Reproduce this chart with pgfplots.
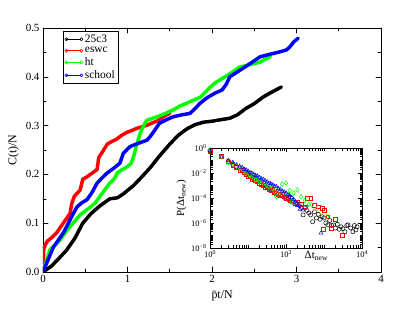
\documentclass[border=0pt]{standalone}
\usepackage{pgfplots}
\pgfplotsset{compat=1.18}
\usepackage{fontspec}
\setmainfont{Liberation Serif}
\definecolor{gGreen}{RGB}{0,255,0}
\definecolor{gRed}{RGB}{255,0,0}
\definecolor{gBlue}{RGB}{0,0,255}
\def\xminor{0}
\foreach \d in {0,1,2,3}{\foreach \f in {0.30103,0.47712,0.60206,0.69897,0.77815,0.84510,0.90309,0.95424}{\pgfmathsetmacro\v{\d+\f}\xdef\xminor{\xminor,\v}}\pgfmathsetmacro\v{\d+1}\xdef\xminor{\xminor,\v}}
\def\yminor{-8}
\foreach \d in {-8,...,-1}{\foreach \f in {0.30103,0.47712,0.60206,0.69897,0.77815,0.84510,0.90309,0.95424}{\pgfmathsetmacro\v{\d+\f}\xdef\yminor{\yminor,\v}}\pgfmathsetmacro\v{\d+1}\xdef\yminor{\yminor,\v}}
\begin{document}
\begin{tikzpicture}
\useasboundingbox (-43bp,-43bp) rectangle (364bp,272bp);
\begin{axis}[
  at={(0bp,0bp)}, anchor=south west,
  width=338bp, height=244bp, scale only axis,
  xmin=0, xmax=4, ymin=0, ymax=0.5,
  xtick={0,1,2,3,4}, minor xtick={0.5,1.5,2.5,3.5},
  ytick={0,0.1,0.2,0.3,0.4,0.5}, minor ytick={0.05,0.15,0.25,0.35,0.45},
  yticklabel style={/pgf/number format/fixed, /pgf/number format/fixed zerofill, /pgf/number format/precision=1},
  /pgf/number format/assume math mode=true,
  tick label style={font=\fontsize{11}{13}\selectfont},
  major tick length=5bp, minor tick length=3bp,
  tick style={black, line width=0.6pt},
  axis line style={line width=0.8pt},
  xlabel={\={p}t/N}, ylabel={C(t)/N},
  label style={font=\fontsize{12}{14}\selectfont},
  xlabel style={at={(axis description cs:0.53,0)}, anchor=north, yshift=-15bp},
  ylabel style={yshift=0bp},
  legend image code/.code={\draw[#1] plot coordinates {(0bp,0bp) (15bp,0bp)};},
  legend style={at={(axis description cs:0.059,0.988)}, anchor=north west, draw=black, line width=0.6pt,
    font=\fontsize{11.5}{11.5}\selectfont, inner sep=1.5pt, row sep=-0.5pt, legend cell align=left},
  line join=round, line cap=round,
]
\addlegendimage{black, mark=o, mark size=1.6pt, line width=0.6pt}
\addlegendentry{25c3}
\addlegendimage{gRed, mark=o, mark size=1.6pt, line width=0.6pt}
\addlegendentry{eswc}
\addlegendimage{gGreen, mark=o, mark size=1.6pt, line width=0.6pt}
\addlegendentry{ht}
\addlegendimage{gBlue, mark=o, mark size=1.6pt, line width=0.6pt}
\addlegendentry{school}
\addplot[black, line width=3.5pt, forget plot] coordinates {
(0,0) (0.1,0.012) (0.2,0.03) (0.28,0.045) (0.38,0.07) (0.47,0.1) (0.57,0.12) (0.67,0.135) (0.79,0.15) (0.88,0.152) (0.95,0.16) (1.07,0.177) (1.17,0.195) (1.27,0.214) (1.38,0.238) (1.5,0.262) (1.6,0.28) (1.7,0.293) (1.8,0.302) (1.9,0.307) (2.0,0.309) (2.1,0.312) (2.21,0.315) (2.3,0.322) (2.4,0.335) (2.5,0.345) (2.6,0.358) (2.7,0.368) (2.82,0.379)
};
\addplot[gRed, line width=3.5pt, forget plot] coordinates {
(0,0) (0.01,0.05) (0.05,0.063) (0.1,0.07) (0.16,0.08) (0.2,0.09) (0.24,0.1) (0.28,0.11) (0.32,0.12) (0.34,0.14) (0.37,0.155) (0.44,0.168) (0.47,0.19) (0.52,0.195) (0.56,0.2) (0.6,0.205) (0.64,0.21) (0.66,0.235) (0.7,0.245) (0.76,0.262) (0.82,0.268) (0.87,0.272) (0.93,0.28) (0.99,0.286) (1.05,0.29) (1.12,0.295) (1.18,0.298) (1.25,0.302) (1.3,0.306) (1.36,0.31) (1.42,0.318) (1.5,0.325)
};
\addplot[gGreen, line width=3.5pt, forget plot] coordinates {
(0,0) (0.08,0.045) (0.14,0.055) (0.2,0.065) (0.26,0.08) (0.32,0.093) (0.38,0.105) (0.44,0.117) (0.5,0.125) (0.56,0.133) (0.62,0.142) (0.67,0.154) (0.73,0.168) (0.79,0.182) (0.84,0.19) (0.88,0.203) (0.94,0.21) (0.99,0.215) (1.04,0.222) (1.07,0.235) (1.1,0.255) (1.15,0.284) (1.19,0.3) (1.23,0.311) (1.3,0.315) (1.35,0.318) (1.45,0.325) (1.54,0.332) (1.62,0.34) (1.7,0.346) (1.78,0.352) (1.86,0.358) (1.93,0.37) (1.98,0.379) (2.04,0.388) (2.09,0.393) (2.2,0.405) (2.33,0.42) (2.45,0.425) (2.57,0.43) (2.63,0.436) (2.69,0.441)
};
\addplot[gBlue, line width=3.5pt, forget plot] coordinates {
(0,0) (0.06,0.025) (0.12,0.05) (0.18,0.065) (0.24,0.08) (0.28,0.093) (0.32,0.107) (0.36,0.12) (0.4,0.133) (0.46,0.142) (0.52,0.148) (0.58,0.163) (0.64,0.182) (0.7,0.193) (0.76,0.203) (0.84,0.213) (0.91,0.223) (0.95,0.243) (1.0,0.252) (1.03,0.257) (1.1,0.262) (1.18,0.267) (1.23,0.27) (1.27,0.278) (1.3,0.285) (1.34,0.295) (1.38,0.305) (1.46,0.312) (1.54,0.318) (1.64,0.322) (1.74,0.325) (1.8,0.335) (1.86,0.346) (1.95,0.358) (2.04,0.367) (2.12,0.373) (2.17,0.385) (2.21,0.4) (2.3,0.41) (2.39,0.42) (2.51,0.434) (2.57,0.441) (2.68,0.446) (2.8,0.451) (2.88,0.455) (2.92,0.461) (2.97,0.472) (3.02,0.479)
};
\end{axis}
\begin{axis}[
  at={(167bp,24bp)}, anchor=south west,
  width=152bp, height=100bp, scale only axis,
  xmin=0, xmax=4, ymin=-8, ymax=0,
  xtick={0,2,4}, xticklabels={10\textsuperscript{0},10\textsuperscript{2},10\textsuperscript{4}},
  ytick={-8,-6,-4,-2,0}, yticklabels={10\textsuperscript{−8},10\textsuperscript{−6},10\textsuperscript{−4},10\textsuperscript{−2},10\textsuperscript{0}},
  minor xtick/.expanded={\xminor}, minor ytick/.expanded={\yminor},
  tick label style={font=\fontsize{8.5}{10}\selectfont},
  xticklabel style={yshift=1bp},
  major tick length=4bp, minor tick length=2.5bp,
  tick style={black, line width=0.5pt},
  axis line style={line width=0.8pt},
  xlabel={Δt\textsubscript{new}}, ylabel={P(Δt\textsubscript{new})},
  label style={font=\fontsize{11}{13}\selectfont},
  xlabel style={at={(axis description cs:0.70,0)}, anchor=north, yshift=-3bp, inner sep=0pt},
  ylabel style={yshift=-2bp},
  mark options={solid, line width=0.5pt},
]
\addplot[only marks, black, mark=o, mark size=2.1pt] coordinates {
(0,-0.2) (0.30,-0.7) (0.48,-1.05) (0.60,-1.3) (0.70,-1.5) (0.78,-1.6) (0.85,-1.75) (0.90,-1.85) (0.95,-1.95) (1.0,-2.05) (1.05,-2.2) (1.1,-2.35) (1.15,-2.45) (1.2,-2.5) (1.25,-2.65) (1.3,-2.7) (1.35,-2.85) (1.4,-2.95) (1.45,-3.0) (1.5,-3.15) (1.55,-3.2) (1.6,-3.35) (1.65,-3.4) (1.7,-3.5) (1.75,-3.6) (1.8,-3.7) (1.85,-3.8) (1.9,-3.85) (1.95,-3.95) (2.0,-4.05) (2.05,-4.1) (2.1,-4.2) (2.15,-4.3) (2.2,-4.35) (2.25,-4.45) (2.3,-4.5) (2.35,-4.6) (2.4,-4.75) (2.45,-5.35) (2.5,-4.8) (2.55,-5.0) (2.6,-5.2) (2.65,-5.35) (2.7,-5.9) (2.75,-5.1) (2.8,-5.6) (2.85,-5.3) (2.9,-5.7) (2.95,-5.5) (3.0,-5.6) (3.05,-6.0) (3.1,-6.15) (3.15,-5.8) (3.2,-6.2) (3.25,-6.15) (3.3,-6.4) (3.35,-6.1) (3.4,-6.5) (3.45,-6.3) (3.5,-6.45) (3.55,-6.7) (3.6,-6.2) (3.63,-6.15) (3.7,-6.4) (3.76,-6.7) (3.8,-6.2) (3.84,-6.55) (3.87,-6.3)
};
\addplot[only marks, gRed, mark=square, mark size=1.9pt] coordinates {
(0,-0.25) (0.30,-0.65) (0.48,-1.1) (0.6,-1.35) (0.7,-1.55) (0.78,-1.75) (0.85,-1.8) (0.9,-1.95) (0.95,-2.1) (1.0,-2.25) (1.05,-2.3) (1.1,-2.5) (1.15,-2.4) (1.2,-2.6) (1.25,-2.7) (1.3,-2.8) (1.35,-2.9) (1.4,-3.0) (1.45,-3.15) (1.5,-3.1) (1.55,-3.3) (1.6,-3.4) (1.65,-3.3) (1.7,-3.55) (1.75,-3.6) (1.8,-3.7) (1.85,-3.8) (1.9,-3.7) (1.95,-3.9) (2.0,-4.05) (2.05,-3.95) (2.1,-4.15) (2.15,-4.2) (2.2,-4.3) (2.25,-4.4) (2.3,-4.35) (2.4,-4.5) (2.5,-4.7) (2.55,-4.0) (2.65,-4.05) (2.75,-4.55) (2.85,-4.7) (2.95,-4.8) (3.0,-5.0) (2.97,-6.5) (3.1,-5.5) (3.2,-6.4) (3.3,-5.7) (3.47,-6.95)
};
\addplot[only marks, gGreen, mark=diamond, mark size=2.4pt] coordinates {
(0,-0.15) (0.30,-0.7) (0.48,-1.15) (0.6,-1.2) (0.7,-1.45) (0.78,-1.6) (0.85,-1.7) (0.9,-1.75) (0.95,-2.05) (1.0,-1.95) (1.05,-2.2) (1.1,-2.3) (1.15,-2.2) (1.2,-2.55) (1.25,-2.45) (1.3,-2.7) (1.35,-2.6) (1.45,-2.8) (1.5,-2.95) (1.55,-3.1) (1.6,-3.0) (1.65,-3.2) (1.7,-3.5) (1.75,-3.9) (1.8,-3.3) (1.85,-3.5) (1.9,-2.9) (1.95,-3.6) (2.0,-2.8) (2.05,-3.7) (2.1,-3.4) (2.15,-4.3) (2.2,-3.6) (2.3,-3.35) (2.4,-3.9) (2.5,-4.2) (2.6,-4.5) (2.68,-4.55) (2.8,-4.9) (3.08,-5.5)
};
\addplot[only marks, gBlue, mark=triangle, mark size=2.2pt] coordinates {
(0,-0.2) (0.30,-0.7) (0.48,-1.0) (0.6,-1.15) (0.7,-1.35) (0.78,-1.45) (0.85,-1.55) (0.9,-1.7) (0.95,-1.75) (1.0,-1.85) (1.05,-1.95) (1.1,-2.0) (1.15,-2.1) (1.2,-2.2) (1.25,-2.25) (1.3,-2.35) (1.35,-2.45) (1.4,-2.5) (1.45,-2.6) (1.5,-2.7) (1.55,-2.8) (1.6,-2.85) (1.65,-2.95) (1.7,-3.05) (1.75,-3.1) (1.8,-3.25) (1.85,-3.3) (1.9,-3.45) (1.95,-3.5) (2.0,-3.6) (2.05,-3.75) (2.1,-3.8) (2.15,-3.95) (2.2,-4.1) (2.25,-4.3) (2.3,-4.6) (2.37,-4.9) (2.45,-4.96) (2.92,-6.8)
};
\end{axis}
\end{tikzpicture}
\end{document}
